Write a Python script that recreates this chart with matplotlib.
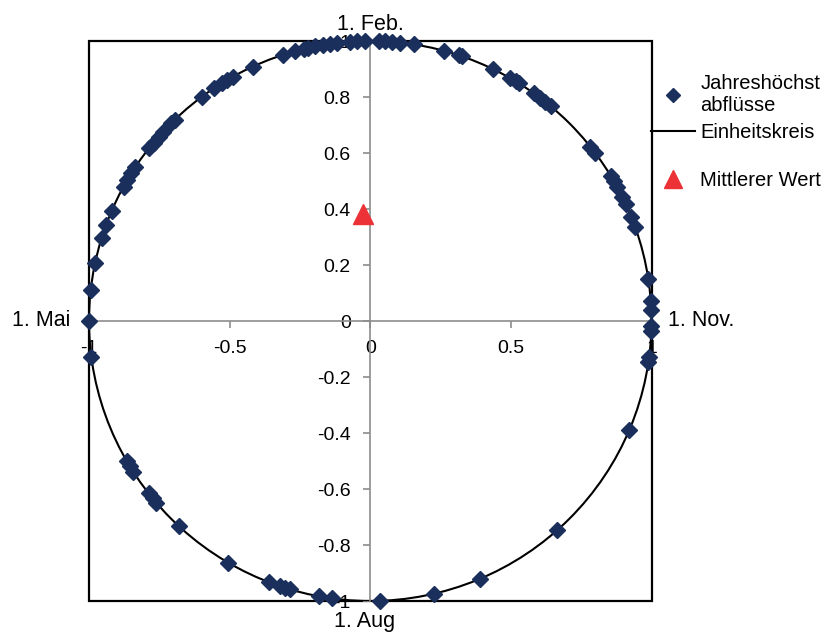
import numpy as np
import matplotlib.pyplot as plt
from matplotlib.lines import Line2D
from matplotlib.patches import Circle, Rectangle
from matplotlib.ticker import FuncFormatter

plt.rcParams['font.family'] = ['Liberation Sans', 'DejaVu Sans']
plt.rcParams['axes.unicode_minus'] = False

# Dates of the annual peak discharges as angles on the unit circle
# (degrees, 0 = 1. Nov., counter-clockwise through the year)
peak_angles_deg = [
    2.3, 4.0, 8.6, 19.7, 21.9, 24.8, 26.4, 28.6, 30.0, 31.3, 36.8, 38.5,
    50.1, 51.5, 52.8, 54.5, 58.1, 58.9, 60.1, 64.1, 71.0, 71.7, 74.9,
    81.1, 83.9, 85.6, 87.0, 88.3,
    91.0, 92.6, 94.1, 96.8, 98.2, 99.6, 101.3, 102.7, 103.7, 105.5, 108.0,
    114.7, 119.3, 120.6, 121.9, 123.8, 126.8, 134.1, 135.1, 137.5, 138.8,
    140.4, 141.9, 146.6, 148.2, 149.7, 151.3, 156.9, 160.0, 162.8, 168.0,
    173.6, 180.0,
    187.3, 210.1, 211.3, 212.6, 218.0, 219.3, 220.5, 227.1, 239.7, 248.8,
    251.3, 252.4, 253.4, 259.4, 262.2,
    272.0, 283.0, 293.0, 311.7, 337.1, 351.6, 352.7, 358.0, 359.0,
]

# mean vector of all events
mean_x = -0.026
mean_y = 0.383

x_ticks = [-1, -0.5, 0, 0.5, 1]
y_ticks = [-1, -0.8, -0.6, -0.4, -0.2, 0, 0.2, 0.4, 0.6, 0.8, 1]

month_labels = ['1. Nov.', '1. Feb.', '1. Mai', '1. Aug']
month_angles_deg = [0, 90, 180, 270]

navy = '#1b2f5c'
red = '#ec3237'

angles = np.radians(peak_angles_deg)
peak_x = np.cos(angles)
peak_y = np.sin(angles)

fig = plt.figure(figsize=(8.23, 6.32), dpi=100)
ax = fig.add_axes([89 / 823, 1 - 601 / 632, 562.5 / 823, 560 / 632])

ax.set_xlim(-1, 1)
ax.set_ylim(-1, 1)

# axes cross in the middle, outer box drawn separately
for side in ['left', 'bottom']:
    ax.spines[side].set_position('zero')
    ax.spines[side].set_color('#8c8c8c')
    ax.spines[side].set_linewidth(1.2)
for side in ['top', 'right']:
    ax.spines[side].set_visible(False)
ax.add_patch(Rectangle((0, 0), 1, 1, transform=ax.transAxes, fill=False,
                       ec='black', lw=1.6, clip_on=False, zorder=1))

ax.set_xticks(x_ticks)
ax.set_yticks(y_ticks)
fmt = FuncFormatter(lambda v, pos: '%g' % round(v, 2))
ax.xaxis.set_major_formatter(fmt)
ax.yaxis.set_major_formatter(fmt)
ax.tick_params(direction='out', length=5, width=1.2, color='#8c8c8c',
               labelsize=14, pad=9)

ax.add_patch(Circle((0, 0), 1, fill=False, ec='black', lw=1.5, zorder=2))

ax.plot(peak_x, peak_y, linestyle='none', marker='D', ms=8, color=navy,
        clip_on=False, zorder=3)
ax.plot([mean_x], [mean_y], linestyle='none', marker='^', ms=14, color=red,
        clip_on=False, zorder=3)

# month names at the ends of the axes (offsets in pixels)
offsets = {0: (16, 0, 'left', 'center'), 90: (0, 17, 'center', 'center'),
           180: (-19, 0, 'right', 'center'), 270: (-6, -20, 'center', 'center')}
for label, ang in zip(month_labels, month_angles_deg):
    dx, dy, ha, va = offsets[ang]
    a = np.radians(ang)
    ax.annotate(label, (round(np.cos(a), 6), round(np.sin(a), 6)),
                xytext=(dx * 0.72, dy * 0.72), textcoords='offset points',
                ha=ha, va=va, fontsize=15.5, annotation_clip=False)

# legend in two blocks, the mean value sits a bit further down
leg_kw = dict(loc='upper left', frameon=False, fontsize=14.5, borderpad=0,
              borderaxespad=0, handlelength=2.2, handletextpad=0.25)
fig.legend([Line2D([], [], linestyle='none', marker='D', ms=7.5, color=navy),
            Line2D([], [], color='black', lw=1.5)],
           ['Jahreshöchst\nabflüsse', 'Einheitskreis'],
           bbox_to_anchor=(651 / 823, 1 - 74 / 632), labelspacing=0.4, **leg_kw)
fig.legend([Line2D([], [], linestyle='none', marker='^', ms=12.5, color=red)],
           ['Mittlerer Wert'],
           bbox_to_anchor=(651 / 823, 1 - 171 / 632), **leg_kw)

fig.savefig('out.png', dpi=100)
